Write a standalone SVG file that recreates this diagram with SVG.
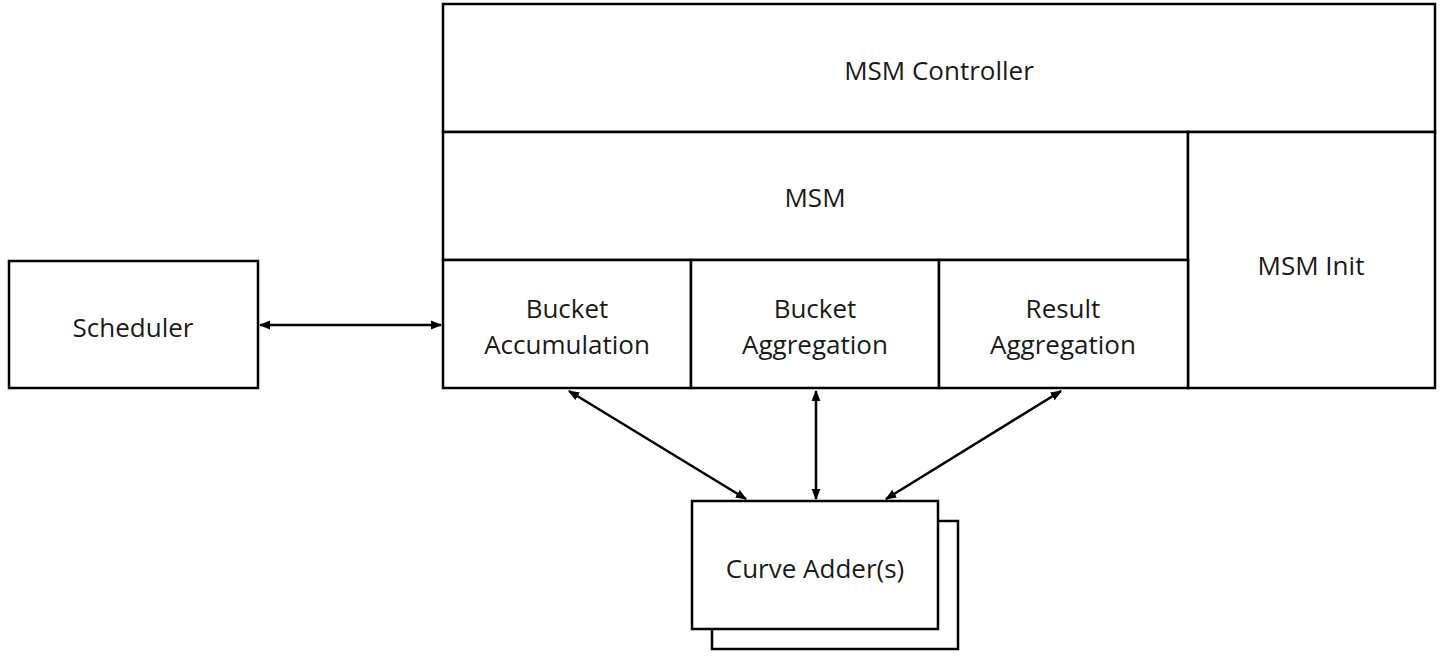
<svg xmlns="http://www.w3.org/2000/svg" width="1440" height="660" viewBox="0 0 1440 660">
<style>
.box{fill:#fff;stroke:#000;stroke-width:2.5}
text{font-family:"Open Sans",Lato,sans-serif;font-size:26px;fill:#1a1a1a;text-anchor:middle;dominant-baseline:central}
.c{fill:none;stroke:#000;stroke-width:2.5;marker-start:url(#a);marker-end:url(#a)}
</style>
<defs>
<marker id="a" viewBox="0 0 10 10" refX="9" refY="5" markerWidth="4.5" markerHeight="4.5" orient="auto-start-reverse" markerUnits="strokeWidth">
<path d="M0,1 L10,5 L0,9 z" fill="#000"/>
</marker>
</defs>
<rect width="1440" height="660" fill="#fff"/>
<g id="scheduler"><rect class="box" x="9" y="261" width="249" height="127"/><text x="133" y="327">Scheduler</text></g>
<g id="msm-controller"><rect class="box" x="443" y="4" width="992" height="128"/><text x="939" y="70">MSM Controller</text></g>
<g id="msm"><rect class="box" x="443" y="132" width="745" height="128"/><text x="815" y="197">MSM</text></g>
<g id="msm-init"><rect class="box" x="1188" y="132" width="247" height="256"/><text x="1311" y="265">MSM Init</text></g>
<g id="bucket-accumulation"><rect class="box" x="443" y="260" width="248" height="128"/><text x="567" y="308">Bucket</text><text x="567" y="344">Accumulation</text></g>
<g id="bucket-aggregation"><rect class="box" x="691" y="260" width="248" height="128"/><text x="815" y="308">Bucket</text><text x="815" y="344">Aggregation</text></g>
<g id="result-aggregation"><rect class="box" x="939" y="260" width="249" height="128"/><text x="1063" y="308">Result</text><text x="1063" y="344">Aggregation</text></g>
<g id="curve-adders"><rect class="box" x="712" y="521" width="246" height="128"/><rect class="box" x="692" y="501" width="246" height="128"/><text x="815" y="568">Curve Adder(s)</text></g>
<g id="connectors">
<line class="c" x1="260" y1="325" x2="441" y2="325"/>
<line class="c" x1="569" y1="391" x2="746" y2="499"/>
<line class="c" x1="816" y1="391" x2="816" y2="499"/>
<line class="c" x1="1061" y1="391" x2="886" y2="499"/>
</g>
</svg>
